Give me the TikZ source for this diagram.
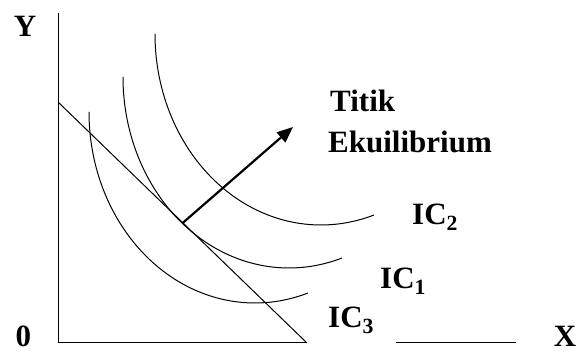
\documentclass[tikz,border=0pt]{standalone}
\usepackage{fontspec}
\setmainfont{Liberation Serif}
\usetikzlibrary{arrows.meta,calc}
\begin{document}
\begin{tikzpicture}[x=1pt,y=1pt,
  thin line/.style={line width=1pt,black},
  icurve/.style={line width=1pt,black},
  bigfont/.style={font=\fontsize{31}{38}\selectfont\bfseries,inner sep=0pt},
  lbl/.style={bigfont,anchor=base west}]
\useasboundingbox (0,0) rectangle (579,353);
% axes
\coordinate (o) at (58,10);
\coordinate (ytop) at (58,340);
\coordinate (xend) at (307,10);
\coordinate (xs2) at (396,10);
\coordinate (xe2) at (516,10);
\draw[thin line] (ytop) -- (o) -- (xend);
\draw[thin line] (xs2) -- (xe2);
% budget line
\coordinate (b0) at (58,251);
\coordinate (b1) at (307,10);
\draw[thin line] (b0) -- (b1);
% indifference curves (elliptical arcs)
\coordinate (ic3s) at (89,241);
\coordinate (ic1s) at (123,276);
\coordinate (ic2s) at (155,319);
\draw[icurve] (ic3s) arc[start angle=180,end angle=288.6,x radius=166,y radius=191];
\draw[icurve] (ic1s) arc[start angle=180,end angle=288.6,x radius=166,y radius=191];
\draw[icurve] (ic2s) arc[start angle=180,end angle=288.6,x radius=166,y radius=191];
% equilibrium arrow
\coordinate (eq) at ($(ic1s)+(59.3,-146.3)$);
\coordinate (tip) at (293,226);
\draw[line width=2.2pt,-{Triangle[length=16pt,width=13pt]}] (eq) -- (tip);
% labels
\node[bigfont,anchor=base] (ylab) at (25,316) {Y};
\node[bigfont,anchor=base] (zlab) at (23.5,6) {0};
\node[bigfont,anchor=base] (xlab) at (565,6) {X};
\node[lbl] (t1) at (330,241) {Titik};
\node[lbl] (t2) at (328,200) {Ekuilibrium};
\node[lbl] (l2) at (412,128) {IC\textsubscript{2}};
\node[lbl] (l1) at (380,64) {IC\textsubscript{1}};
\node[lbl] (l3) at (328,25) {IC\textsubscript{3}};
\end{tikzpicture}
\end{document}
